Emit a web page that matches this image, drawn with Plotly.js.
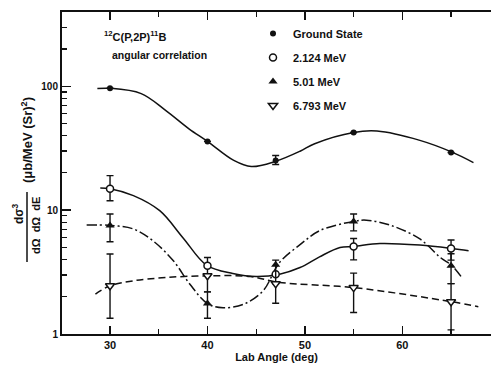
<!DOCTYPE html>
<html>
<head>
<meta charset="utf-8">
<script src="https://cdn.plot.ly/plotly-3.0.1.min.js"></script>
<style>html,body{margin:0;padding:0;background:#fff;}#chart{width:491px;height:368px;}</style>
</head>
<body>
<div id="chart"></div>
<script>
// Measured points (lab angle in degrees)
const angles = [30, 40, 47, 55, 65];
const seriesNames = ['Ground State', '2.124 MeV', '5.01 MeV', '6.793 MeV'];

const gsVal = [96.4, 35.9, 25.2, 42.4, 29.2];
const gsErrPlus = [0, 0, 2.4, 0, 0];
const gsErrMinus = [0, 0, 1.8, 0, 0];

const e2Val = [14.9, 3.56, 3.04, 5.09, 4.91];
const e2ErrPlus = [4.1, 0.59, 0, 0.81, 0.83];
const e2ErrMinus = [3.0, 1.37, 0, 1.12, 0.96];

const e5Val = [7.53, 1.76, 3.62, 8.11, 3.56];
const e5ErrPlus = [1.77, 0.43, 0.33, 1.19, 0.88];
const e5ErrMinus = [1.97, 0.42, 1.07, 1.31, 1.01];

const e6Val = [2.45, 2.95, 2.55, 2.37, 1.82];
const e6ErrPlus = [1.97, 0, 0, 0.73, 0.73];
const e6ErrMinus = [1.11, 0, 0.78, 0.88, 0.74];

// Fitted curves
const gsCurveX = [28.7, 30, 33.2, 35.7, 38.1, 40, 42.7, 44.5, 47, 49.5, 51, 55, 57.4, 61.8, 65.1, 67.3];
const gsCurveY = [96, 96.4, 87.3, 64, 45.4, 35.9, 25.2, 22.5, 24.8, 29.9, 34.4, 42.4, 43.5, 36.6, 29.4, 24.2];

const e2CurveX = [29, 30, 32.4, 35.1, 37.5, 39.9, 42.6, 45, 47.4, 49.5, 51.5, 53.6, 55, 57.7, 61.8, 65.1, 66.8];
const e2CurveY = [15.1, 14.9, 13.1, 9.9, 5.97, 3.6, 3.08, 2.91, 3.04, 3.44, 4.2, 5.0, 5.09, 5.38, 5.22, 4.9, 4.7];

const e5CurveX = [27.6, 30, 32.4, 34.4, 36.5, 38.2, 40, 41.6, 43.7, 45.7, 47.4, 49.5, 51.5, 55, 56.3, 58.9, 61.8, 63.9, 65.1, 66.1];
const e5CurveY = [7.59, 7.53, 7.05, 5.66, 3.9, 2.52, 1.76, 1.63, 1.74, 2.23, 3.78, 5.26, 6.82, 8.11, 8.3, 7.5, 5.85, 4.15, 3.56, 2.86];

const e6CurveX = [28.5, 30, 32.4, 35.8, 40, 44.4, 47.4, 55, 65.1, 67.8];
const e6CurveY = [2.1, 2.45, 2.69, 2.86, 2.95, 2.91, 2.61, 2.37, 1.82, 1.66];

// Axis ticks
const xMajorTicks = [30, 40, 50, 60];
const xMinorTicks = [35, 45, 55, 65];
const yMajorTicks = [1, 10, 100];
const yMajorLabels = ['1', '10', '100'];
const yMinorTicks = [2,3,4,5,6,7,8,9,20,30,40,50,60,70,80,90,200,300,400];

const FONT = 'Liberation Sans, Arial, sans-serif';
const ink = '#111';

function curve(x, y, dash) {
  return {x: x, y: y, type: 'scatter', mode: 'lines', showlegend: false, hoverinfo: 'skip',
    line: {color: ink, width: 1.5, shape: 'spline', smoothing: 1, dash: dash}};
}
function pts(name, y, plus, minus, marker, group) {
  return {x: angles, y: y, type: 'scatter', mode: 'markers', name: name, legendgroup: group,
    marker: marker,
    error_y: {type: 'data', symmetric: false, array: plus, arrayminus: minus,
      color: ink, thickness: 1.4, width: 3.5}};
}

const traces = [
  curve(gsCurveX, gsCurveY, 'solid'),
  curve(e2CurveX, e2CurveY, 'solid'),
  curve(e5CurveX, e5CurveY, '10px,3px,2px,3px'),
  curve(e6CurveX, e6CurveY, '7px,4px'),
  pts(seriesNames[0], gsVal, gsErrPlus, gsErrMinus, {symbol: 'circle', size: 6, color: ink}, 'g1'),
  pts(seriesNames[1], e2Val, e2ErrPlus, e2ErrMinus, {symbol: 'circle', size: 7, color: '#fff', line: {color: ink, width: 1.5}}, 'g2'),
  pts(seriesNames[2], e5Val, e5ErrPlus, e5ErrMinus, {symbol: 'triangle-up', size: 8, color: ink}, 'g3'),
  pts(seriesNames[3], e6Val, e6ErrPlus, e6ErrMinus, {symbol: 'triangle-down', size: 8, color: '#fff', line: {color: ink, width: 1.5}}, 'g4')
];

const W = 491, H = 368, L = 62, R = 0, T = 12, B = 34;
const pw = W - L - R, ph = H - T - B;
const px = v => (v - L) / pw;
const py = v => (H - B - v) / ph;

const layout = {
  width: W, height: H,
  margin: {l: L, r: R, t: T, b: B, pad: 0},
  paper_bgcolor: '#fff', plot_bgcolor: '#fff',
  font: {family: FONT, color: ink, size: 11, weight: 700},
  showlegend: true,
  legend: {x: px(253), y: py(19), xanchor: 'left', yanchor: 'top', bgcolor: 'rgba(0,0,0,0)',
    font: {family: FONT, size: 11, color: ink, weight: 700}, traceorder: 'grouped', tracegroupgap: 5,
    itemclick: false},
  xaxis: {
    range: [25.07, 69.1], showgrid: false, zeroline: false,
    showline: true, linecolor: ink, linewidth: 2, mirror: 'ticks',
    tickmode: 'array', tickvals: xMajorTicks, ticks: 'inside', ticklen: 8, tickwidth: 1.5, tickcolor: ink,
    minor: {tickmode: 'array', tickvals: xMinorTicks, ticks: 'inside', ticklen: 5, tickwidth: 1.2, tickcolor: ink, showgrid: false},
    tickfont: {family: FONT, size: 11, color: ink, weight: 700},
    title: {text: 'Lab Angle (deg)', font: {family: FONT, size: 11, color: ink, weight: 700}, standoff: 2}
  },
  yaxis: {
    type: 'log', range: [0, 2.6], showgrid: false, zeroline: false,
    showline: true, linecolor: ink, linewidth: 2, mirror: false,
    tickmode: 'array', tickvals: yMajorTicks, ticktext: yMajorLabels, ticks: 'inside', ticklen: 9, tickwidth: 1.5, tickcolor: ink,
    minor: {tickmode: 'array', tickvals: yMinorTicks, ticks: 'inside', ticklen: 5, tickwidth: 1.2, tickcolor: ink, showgrid: false},
    tickfont: {family: FONT, size: 10, color: ink, weight: 700}
  },
  annotations: [
    {xref: 'paper', yref: 'paper', x: px(102), y: py(36), xanchor: 'left', yanchor: 'middle', showarrow: false,
      text: '<sup>12</sup>C(P,2P)<sup>11</sup>B', font: {family: FONT, size: 11, color: ink, weight: 700}},
    {xref: 'paper', yref: 'paper', x: px(110), y: py(55), xanchor: 'left', yanchor: 'middle', showarrow: false,
      text: 'angular correlation', font: {family: FONT, size: 10.5, color: ink, weight: 700}},
    {xref: 'paper', yref: 'paper', x: px(18), y: py(214), xanchor: 'center', yanchor: 'middle', showarrow: false, textangle: -90,
      text: 'dσ<sup>3</sup>', font: {family: FONT, size: 12, color: ink, weight: 700}},
    {xref: 'paper', yref: 'paper', x: px(36), y: py(226), xanchor: 'center', yanchor: 'middle', showarrow: false, textangle: -90,
      text: 'dΩ  dΩ  dE', font: {family: FONT, size: 11, color: ink, weight: 700}},
    {xref: 'paper', yref: 'paper', x: px(27), y: py(140), xanchor: 'center', yanchor: 'middle', showarrow: false, textangle: -90,
      text: '(μb/MeV (Sr)<sup>2</sup>)', font: {family: FONT, size: 13, color: ink, weight: 700}}
  ],
  shapes: [
    {type: 'line', xref: 'paper', yref: 'paper', x0: px(27), x1: px(27), y0: py(192), y1: py(262), line: {color: ink, width: 1.5}}
  ]
};

Plotly.newPlot('chart', traces, layout, {displayModeBar: false, staticPlot: true});
</script>
</body>
</html>
